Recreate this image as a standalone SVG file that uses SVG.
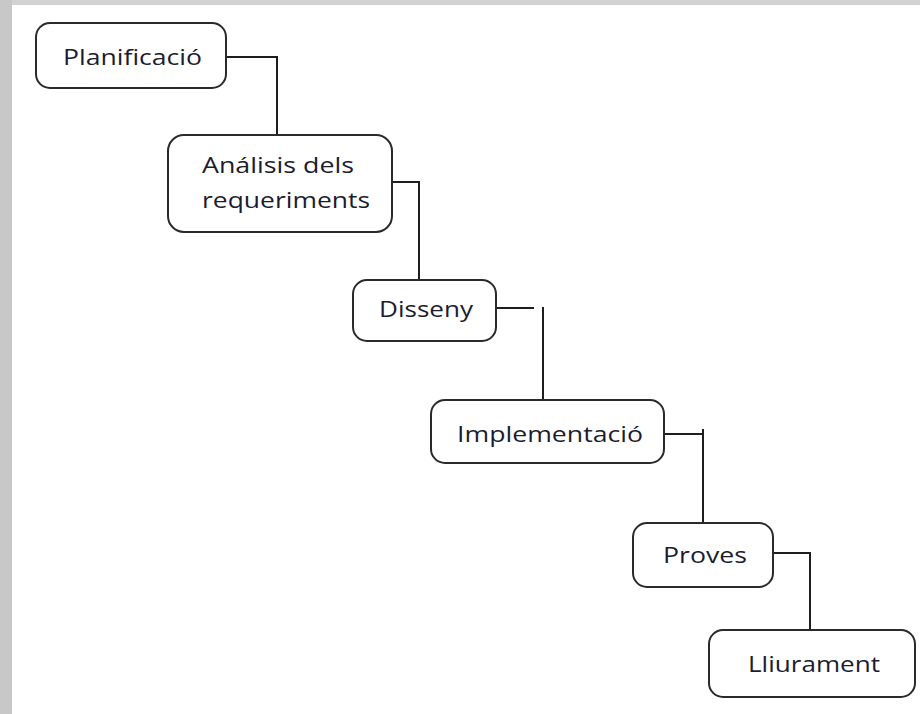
<svg xmlns="http://www.w3.org/2000/svg" width="920" height="714" viewBox="0 0 920 714">
<style>
.box{fill:#fff;stroke:#2a2a2a;stroke-width:2}
.lbl{font-family:"Open Sans","Noto Sans",sans-serif;font-size:22px;fill:#1c1c30}
.ln{fill:none;stroke:#1e1e1e;stroke-width:2}
</style>
<rect x="0" y="0" width="920" height="714" fill="#fff"/>
<rect x="0" y="0" width="920" height="5" fill="#d2d2d2"/>
<rect x="0" y="0" width="12" height="714" fill="#c8c8c8"/>
<g id="connectors">
<path class="ln" d="M226 57 H277 V135"/>
<path class="ln" d="M392 182 H419 V280"/>
<path class="ln" d="M496 308 H534"/>
<path class="ln" d="M543 307 V400"/>
<path class="ln" d="M664 434 H703"/>
<path class="ln" d="M703 429 V523"/>
<path class="ln" d="M773 553 H810 V630"/>
</g>
<g id="n1"><rect class="box" x="36" y="23" width="190" height="65" rx="14"/><text class="lbl" x="63" y="65" textLength="139" lengthAdjust="spacingAndGlyphs">Planificació</text></g>
<g id="n2"><rect class="box" x="168" y="135" width="224" height="97" rx="16"/><text class="lbl" x="202" y="173" textLength="152" lengthAdjust="spacingAndGlyphs">Análisis dels</text><text class="lbl" x="202" y="208" textLength="168" lengthAdjust="spacingAndGlyphs">requeriments</text></g>
<g id="n3"><rect class="box" x="353" y="280" width="143" height="61" rx="14"/><text class="lbl" x="379" y="317" textLength="94" lengthAdjust="spacingAndGlyphs">Disseny</text></g>
<g id="n4"><rect class="box" x="431" y="400" width="233" height="63" rx="14"/><text class="lbl" x="457" y="442" textLength="186" lengthAdjust="spacingAndGlyphs">Implementació</text></g>
<g id="n5"><rect class="box" x="633" y="523" width="140" height="64" rx="14"/><text class="lbl" x="663" y="563" textLength="84" lengthAdjust="spacingAndGlyphs">Proves</text></g>
<g id="n6"><rect class="box" x="709" y="630" width="206" height="67" rx="14"/><text class="lbl" x="748" y="672" textLength="132" lengthAdjust="spacingAndGlyphs">Lliurament</text></g>
</svg>
